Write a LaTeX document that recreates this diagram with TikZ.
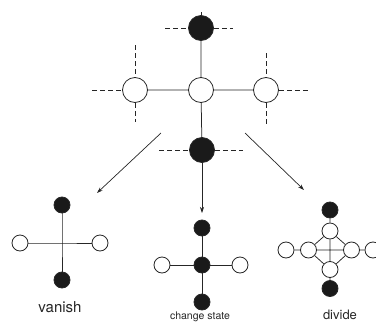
\documentclass[tikz,border=0pt]{standalone}
\usepackage{fontspec}
\setmainfont{TeX Gyre Heros}
\usetikzlibrary{arrows.meta}
\definecolor{ink}{HTML}{262626}
\definecolor{dot}{HTML}{1A1A1A}
\tikzset{
  big/.style={circle,draw=ink,line width=0.8pt,minimum size=25pt,inner sep=0pt},
  small/.style={circle,draw=ink,line width=0.8pt,minimum size=16pt,inner sep=0pt},
  full/.style={fill=dot},
  empty/.style={fill=white},
  bond/.style={draw=ink,line width=0.75pt},
  loose/.style={draw=ink,line width=0.75pt,dash pattern=on 5pt off 3pt},
  flow/.style={draw=ink,line width=0.7pt,-{Stealth[length=6pt,width=4pt]}},
  caption/.style={text=ink,anchor=base,inner sep=0pt}
}
\begin{document}
\begin{tikzpicture}[x=1pt,y=-1pt]
\useasboundingbox (0,0) rectangle (376,322);

% --- upper configuration
\coordinate (tl) at (165,28);  \coordinate (tr) at (233,28);
\coordinate (tt) at (201,12);
\coordinate (bl) at (159,150); \coordinate (br) at (243,150);
\coordinate (bb) at (202,169);
\coordinate (lu) at (135,45);  \coordinate (ld) at (135,122); \coordinate (ll) at (92,90);
\coordinate (ru) at (266,53);  \coordinate (rd) at (266,125); \coordinate (rr) at (308,90);

\node[big,full]  (T) at (201,28) {};
\node[big,empty] (C) at (201,90) {};
\node[big,empty] (L) at (135,90) {};
\node[big,empty] (R) at (266,90) {};
\node[big,full]  (B) at (202,150) {};

% open bonds
\path[loose] (tl) -- (T.west) (T.east) -- (tr);
\path[loose] (bl) -- (B.west) (B.east) -- (br);
\path[loose] (lu) -- (L.north) (L.south) -- (ld) (ll) -- (L.west);
\path[loose] (ru) -- (R.north) (R.south) -- (rd) (R.east) -- (rr);
% closed bonds
\path[bond] (tt) -- (T.north) (B.south) -- (bb);
\path[bond] (T) -- (C) (C) -- (B) (L) -- (C) (C) -- (R);

% --- arrows to the three outcomes
\coordinate (a1) at (161,133); \coordinate (a1e) at (97,193);
\coordinate (a2) at (202,167); \coordinate (a2e) at (202,213);
\coordinate (a3) at (245,133); \coordinate (a3e) at (304,190);
\path[flow] (a1) -- (a1e);
\path[flow] (a2) -- (a2e);
\path[flow] (a3) -- (a3e);

% --- vanish
\coordinate (vc) at (62,243);
\node[small,full]  (vT) at (62,205) {};
\node[small,empty] (vL) at (20,243) {};
\node[small,empty] (vR) at (100,243) {};
\node[small,full]  (vB) at (62,280) {};
\path[bond] (vT) -- (vc) -- (vB) (vL) -- (vc) -- (vR);
\node[caption,font=\fontsize{15}{15}\selectfont] (vt) at (60,312.5) {vanish};

% --- change state
\node[small,full]  (sT) at (202,228) {};
\node[small,full]  (sC) at (202,265) {};
\node[small,empty] (sL) at (162,265) {};
\node[small,empty] (sR) at (240,265) {};
\node[small,full]  (sB) at (202,302) {};
\path[bond] (sT) -- (sC) (sC) -- (sB) (sL) -- (sC) (sC) -- (sR);
\node[caption,font=\fontsize{10.5}{10.5}\selectfont] (st) at (200,319.5) {change state};

% --- divide
\node[small,full]  (dT)  at (330,210) {};
\node[small,empty] (dW)  at (330,231) {};
\node[small,empty] (dL)  at (308.5,250) {};
\node[small,empty] (dR)  at (351.5,250) {};
\node[small,empty] (dS)  at (330,269.5) {};
\node[small,empty] (dOL) at (286,250) {};
\node[small,empty] (dOR) at (373,250) {};
\node[small,full]  (dB)  at (330,288.5) {};
\path[bond] (dT) -- (dW) (dS) -- (dB)
  (dOL) -- (dL) (dR) -- (dOR)
  (dW) -- (dL) (dW) -- (dR) (dS) -- (dL) (dS) -- (dR)
  (dW) -- (dS) (dL) -- (dR);
\node[caption,font=\fontsize{13}{13}\selectfont] (dt) at (340,319) {divide};
\end{tikzpicture}
\end{document}
